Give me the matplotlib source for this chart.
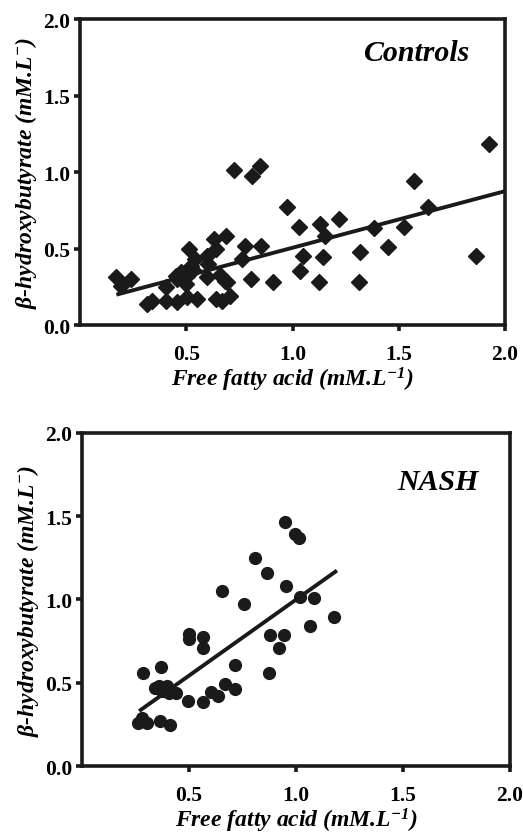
import matplotlib
matplotlib.use("Agg")
import matplotlib.pyplot as plt
import numpy as np

# ---------------- data ----------------
ctrl_ffa = [1.925, 0.723, 0.809, 0.848, 1.574, 1.636, 0.973, 1.032, 1.129, 1.152,
            1.219, 1.383, 1.524, 1.316, 1.449, 1.863, 1.051, 1.144, 1.035, 1.124,
            1.313, 0.907, 0.806, 0.851, 0.778, 0.762, 0.687, 0.632, 0.642, 0.515,
            0.543, 0.473, 0.504, 0.520, 0.457, 0.692, 0.169, 0.239, 0.192, 0.317,
            0.340, 0.403, 0.403, 0.457, 0.504, 0.551, 0.642, 0.707, 0.670, 0.598,
            0.680, 0.598, 0.450, 0.600, 0.660, 0.500, 0.530]
ctrl_bhb = [1.18, 1.01, 0.976, 1.04, 0.943, 0.769, 0.769, 0.643, 0.66, 0.58,
            0.693, 0.632, 0.638, 0.475, 0.508, 0.453, 0.453, 0.442, 0.355, 0.279,
            0.279, 0.279, 0.30, 0.518, 0.518, 0.431, 0.58, 0.562, 0.497, 0.497,
            0.431, 0.346, 0.322, 0.388, 0.30, 0.279, 0.312, 0.30, 0.257, 0.137,
            0.159, 0.159, 0.246, 0.148, 0.181, 0.17, 0.17, 0.192, 0.16, 0.312,
            0.29, 0.453, 0.32, 0.40, 0.33, 0.27, 0.36]

nash_ffa = [0.947, 0.997, 1.012, 0.806, 0.864, 0.953, 0.656, 1.020, 1.083, 0.755,
            1.176, 1.067, 0.880, 0.945, 0.922, 0.500, 0.500, 0.564, 0.564, 0.716,
            0.876, 0.286, 0.369, 0.341, 0.395, 0.375, 0.406, 0.438, 0.360, 0.494,
            0.564, 0.602, 0.637, 0.669, 0.716, 0.263, 0.302, 0.280, 0.364, 0.411]
nash_bhb = [1.467, 1.393, 1.369, 1.247, 1.159, 1.083, 1.049, 1.016, 1.008, 0.972,
            0.896, 0.842, 0.786, 0.786, 0.708, 0.792, 0.762, 0.776, 0.706, 0.607,
            0.557, 0.557, 0.592, 0.471, 0.481, 0.450, 0.441, 0.441, 0.480, 0.391,
            0.387, 0.447, 0.421, 0.491, 0.465, 0.257, 0.257, 0.290, 0.271, 0.247]

# regression lines: [slope, intercept], [x start, x end]
ctrl_fit = [0.370, 0.135]
ctrl_fit_range = [0.18, 2.0]
nash_fit = [0.912, 0.087]
nash_fit_range = [0.274, 1.184]

xticks = [0.5, 1.0, 1.5, 2.0]
yticks = [0.0, 0.5, 1.0, 1.5, 2.0]
xtick_labels = ["0.5", "1.0", "1.5", "2.0"]
ytick_labels = ["0.0", "0.5", "1.0", "1.5", "2.0"]

xlabel = "Free fatty acid (mM.L$^{-1}$)"
ylabel = "β-hydroxybutyrate (mM.L$^{-}$)"

# ---------------- style ----------------
plt.rcParams["font.family"] = ["Liberation Serif", "DejaVu Serif"]
plt.rcParams["mathtext.fontset"] = "custom"
plt.rcParams["mathtext.rm"] = "Liberation Serif:bold:italic"
plt.rcParams["mathtext.it"] = "Liberation Serif:bold:italic"
plt.rcParams["mathtext.bf"] = "Liberation Serif:bold:italic"
plt.rcParams["mathtext.default"] = "it"

INK = "#1a1a1a"

fig = plt.figure(figsize=(5.23, 8.37), dpi=100)
ax1 = fig.add_axes([0.153, 0.6105, 0.8126, 0.3656])
ax2 = fig.add_axes([0.157, 0.0836, 0.818, 0.398])


def style(ax, name, tx, ty):
    ax.set_xlim(0, 2.0)
    ax.set_ylim(0, 2.0)
    ax.set_xticks(xticks)
    ax.set_xticklabels(xtick_labels, fontsize=15.5, fontweight="bold")
    ax.set_yticks(yticks)
    ax.set_yticklabels(ytick_labels, fontsize=15.5, fontweight="bold")
    for s in ax.spines.values():
        s.set_linewidth(2.6)
        s.set_color(INK)
    ax.tick_params(direction="out", length=4, width=2.6, color=INK,
                   pad=10, top=False, right=False)
    ax.tick_params(axis="y", pad=3)
    ax.set_xlabel(xlabel, fontsize=17, fontweight="bold", fontstyle="italic",
                  labelpad=0)
    ax.set_ylabel(ylabel, fontsize=17, fontweight="bold", fontstyle="italic",
                  labelpad=3)
    ax.text(tx, ty, name, transform=ax.transAxes, ha="right", va="center",
            fontsize=21.5, fontweight="bold", fontstyle="italic")


ax1.plot(ctrl_ffa, ctrl_bhb, linestyle="none", marker="D", ms=8.5,
         color=INK, mec=INK)
xr = np.array(ctrl_fit_range)
ax1.plot(xr, ctrl_fit[0] * xr + ctrl_fit[1], color=INK, lw=2.8)
style(ax1, "Controls", 0.918, 0.892)

ax2.plot(nash_ffa, nash_bhb, linestyle="none", marker="o", ms=8.5,
         color=INK, mec=INK)
xr = np.array(nash_fit_range)
ax2.plot(xr, nash_fit[0] * xr + nash_fit[1], color=INK, lw=2.8)
style(ax2, "NASH", 0.928, 0.853)

fig.savefig("out.png", dpi=100)
